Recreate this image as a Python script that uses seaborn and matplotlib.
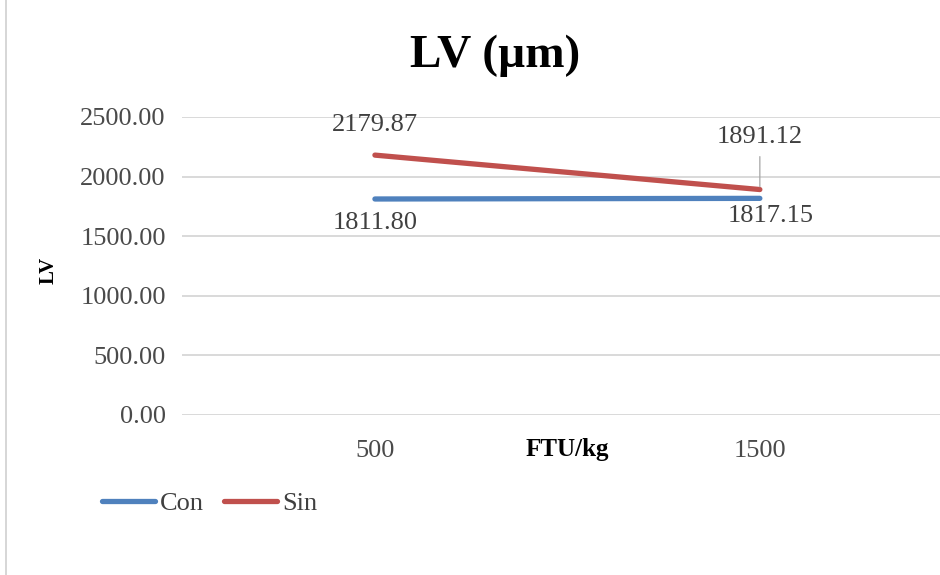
import matplotlib
matplotlib.use("Agg")
import matplotlib.pyplot as plt
from matplotlib.lines import Line2D
import pandas as pd
import seaborn as sns

# Phytase dose categories and LV (µm) measurements per treatment
doses = ["500", "1500"]
con_values = [1811.80, 1817.15]
sin_values = [2179.87, 1891.12]
series_names = ["Con", "Sin"]
y_ticks = [0, 500, 1000, 1500, 2000, 2500]

df = pd.DataFrame({
    "dose": doses * 2,
    "value": con_values + sin_values,
    "series": [series_names[0]] * len(doses) + [series_names[1]] * len(doses),
})

sns.set_theme(style="white")
plt.rcParams["font.family"] = ["Liberation Serif", "DejaVu Serif"]

colors = {"Con": "#4F81BD", "Sin": "#C0504D"}
fs = 19

fig = plt.figure(figsize=(9.4, 5.75), dpi=100)
ax = fig.add_axes([0.1941, 0.2783, 0.819, 0.5183])

sns.lineplot(data=df, x="dose", y="value", hue="series", palette=colors,
             linewidth=3.8, ax=ax, legend=False, sort=False,
             solid_capstyle="round")

ax.set_xlim(-0.5, 1.5)
ax.set_ylim(0, 2500)
ax.set_yticks(y_ticks)
ax.set_yticklabels([f"{v:.2f}" for v in y_ticks])
ax.grid(axis="y", color="#D9D9D9", linewidth=1.4)
ax.grid(axis="x", visible=False)
ax.set_axisbelow(True)
for s in ax.spines.values():
    s.set_visible(False)
ax.tick_params(axis="both", length=0, labelsize=fs, labelcolor="#4A4A4A")
ax.tick_params(axis="x", pad=18)
ax.tick_params(axis="y", pad=12)

ax.set_xlabel("FTU/kg", fontsize=18, fontweight="bold", color="black")
ax.xaxis.set_label_coords(0.5, -(450 - 415) / 298)
ax.xaxis.label.set_va("center")
ax.set_ylabel("LV", fontsize=15, fontweight="bold", color="black")
ax.yaxis.set_label_coords(-(182.5 - 49) / 770, (415 - 270) / 298)
ax.yaxis.label.set_va("center")

fig.text(495 / 940, (575 - 67) / 575, "LV (µm)", fontsize=34,
         fontweight="bold", color="black", ha="center", va="baseline")

# value labels for each point
lbl = dict(fontsize=fs, color="#404040", ha="center", va="center",
           textcoords="offset points")
ax.annotate(f"{sin_values[0]:.2f}", (0, sin_values[0]), xytext=(0, 22), **lbl)
ax.annotate(f"{sin_values[1]:.2f}", (1, sin_values[1]), xytext=(0, 38),
            arrowprops=dict(arrowstyle="-", color="#A6A6A6", lw=0.9,
                            shrinkA=4, shrinkB=2), **lbl)
ax.annotate(f"{con_values[0]:.2f}", (0, con_values[0]), xytext=(0, -17), **lbl)
ax.annotate(f"{con_values[1]:.2f}", (1, con_values[1]), xytext=(8, -13), **lbl)

handles = [Line2D([0], [0], color=colors[n], lw=3.8, solid_capstyle="round")
           for n in series_names]
fig.legend(handles, series_names, loc="center left",
           bbox_to_anchor=(102 / 940, (575 - 503) / 575), ncol=2,
           frameon=False, fontsize=fs, handlelength=2.0, handletextpad=0.2,
           columnspacing=0.75, labelcolor="#404040", borderpad=0,
           borderaxespad=0)

# thin frame edge on the left
fig.add_artist(Line2D([0.0065, 0.0065], [0, 1], transform=fig.transFigure,
                      color="#D0D0D0", lw=1.2))

fig.savefig("out.png", dpi=100)
